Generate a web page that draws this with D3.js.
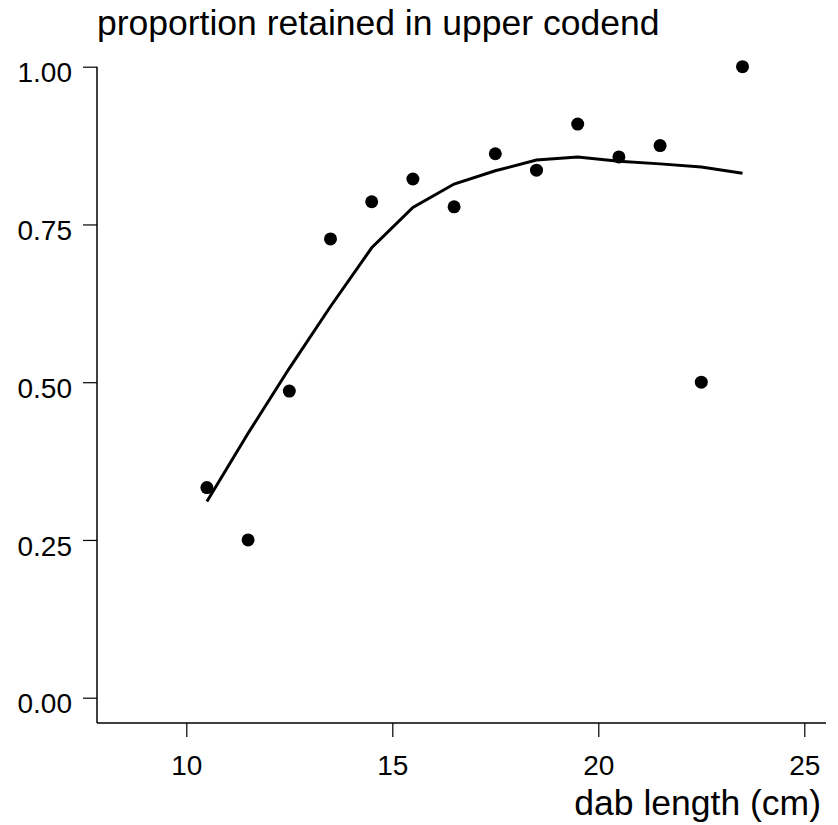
<!DOCTYPE html>
<html>

<head>
    <title>Proportion retained in upper codend</title>
    <script src="https://d3js.org/d3.v7.min.js"></script>
    <style>
        body { margin: 0; background: white; }
        text { font-family: Arial, "Liberation Sans", Helvetica, sans-serif; fill: black; }
    </style>
</head>

<body>
    <div id="chart"></div>
    <script>
        // DATA
        var lengths = [10.5, 11.5, 12.5, 13.5, 14.5, 15.5, 16.5, 17.5, 18.5, 19.5, 20.5, 21.5, 22.5, 23.5]
        var observed = [0.333, 0.25, 0.486, 0.727, 0.786, 0.822, 0.778, 0.862, 0.836, 0.909, 0.857, 0.875, 0.5, 1.0]
        var fitted = [0.311, 0.419, 0.522, 0.620, 0.713, 0.777, 0.814, 0.835, 0.852, 0.857, 0.850, 0.846, 0.841, 0.831]
        var xTicks = [10, 15, 20, 25]
        var yTicks = [0, 0.25, 0.5, 0.75, 1]

        // SETUP
        var width = 838
        var height = 825
        var left = 97
        var bottom = 723

        var x = d3.scaleLinear().domain([10, 25]).range([186.3, 804.3])
        var y = d3.scaleLinear().domain([0, 1]).range([697.7, 66.7])

        var svg = d3.select('#chart').append('svg')
            .attr('width', width)
            .attr('height', height)

        // y axis (L-shaped frame, base R look)
        var yAxis = svg.append('g')
            .attr('transform', 'translate(' + left + ',0)')
            .call(d3.axisLeft(y).tickValues(yTicks).tickFormat(d3.format('.2f')).tickSize(14).tickPadding(11).tickSizeOuter(0))
        yAxis.select('.domain').remove()
        yAxis.append('line')
            .attr('x1', 0).attr('x2', 0)
            .attr('y1', y(1)).attr('y2', bottom)
            .attr('stroke', 'black').attr('stroke-width', 1.5)
        yAxis.selectAll('.tick line').attr('stroke-width', 1.2)
        yAxis.selectAll('.tick text').style('font-size', '28px').attr('dy', '0.54em')

        // x axis
        var xAxis = svg.append('g')
            .attr('transform', 'translate(0,' + bottom + ')')
            .call(d3.axisBottom(x).tickValues(xTicks).tickSize(14).tickPadding(18).tickSizeOuter(0))
        xAxis.select('.domain').remove()
        xAxis.append('line')
            .attr('x1', left).attr('x2', 826)
            .attr('y1', 0).attr('y2', 0)
            .attr('stroke', 'black').attr('stroke-width', 1.5)
        xAxis.selectAll('.tick line').attr('stroke-width', 1.2)
        xAxis.selectAll('.tick text').style('font-size', '28px')

        // titles
        svg.append('text')
            .attr('x', 97)
            .attr('y', 35)
            .style('font-size', '35.5px')
            .text('proportion retained in upper codend')

        svg.append('text')
            .attr('x', 821)
            .attr('y', 815)
            .attr('text-anchor', 'end')
            .style('font-size', '35.5px')
            .text('dab length (cm)')

        // fitted line
        var line = d3.line()
            .x(function (d, i) { return x(lengths[i]) })
            .y(function (d) { return y(d) })
        svg.append('path')
            .datum(fitted)
            .attr('d', line)
            .attr('fill', 'none')
            .attr('stroke', 'black')
            .attr('stroke-width', 3)

        // observed points
        svg.selectAll('circle.obs')
            .data(observed)
            .enter().append('circle')
            .attr('class', 'obs')
            .attr('cx', function (d, i) { return x(lengths[i]) })
            .attr('cy', function (d) { return y(d) })
            .attr('r', 6.5)
            .style('fill', 'black')
    </script>
</body>

</html>
